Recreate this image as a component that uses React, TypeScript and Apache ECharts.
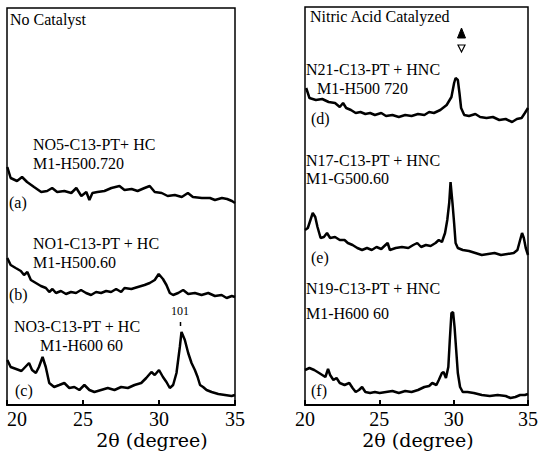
import { useEffect, useRef } from "react";
import * as echarts from "echarts";

// 2θ (degree) tick values
const xTicks = [20, 25, 30, 35];

// Left panel (No Catalyst) – [2θ, intensity offset, a.u.]
const curveA: [number, number][] = [
  [20.02, 238], [20.24, 227], [20.66, 224], [20.99, 228], [21.32, 223], [21.78, 218],
  [22.25, 213], [22.64, 214], [22.97, 217], [23.3, 213], [23.77, 214], [24.23, 212],
  [24.56, 217], [24.89, 209], [25.22, 213], [25.42, 205], [25.62, 212], [25.95, 213],
  [26.41, 214], [26.87, 217], [27.4, 219], [27.73, 215], [28.2, 216], [28.59, 214],
  [29.05, 217], [29.39, 219], [29.72, 213], [30.18, 212], [30.57, 209], [31.04, 210],
  [31.5, 208], [31.9, 212], [32.23, 208], [32.82, 207], [33.35, 207], [33.68, 205],
  [34.14, 207], [34.48, 206], [34.8, 204], [35.0, 202],
];
const curveB: [number, number][] = [
  [20.02, 147], [20.24, 140], [20.57, 137], [20.91, 134], [21.12, 130], [21.34, 133],
  [21.57, 125], [21.9, 122], [22.23, 119], [22.56, 117], [22.78, 113], [22.99, 116],
  [23.22, 112], [23.55, 114], [23.88, 111], [24.21, 113], [24.54, 112], [24.87, 115],
  [25.2, 112], [25.53, 110], [25.86, 113], [26.19, 112], [26.52, 114], [26.85, 113],
  [27.18, 116], [27.51, 113], [27.73, 117], [28.18, 116], [28.61, 118], [29.05, 120],
  [29.39, 122], [29.72, 125], [29.98, 131], [30.26, 126], [30.49, 120], [30.71, 112],
  [30.93, 110], [31.26, 112], [31.59, 115], [31.92, 111], [32.36, 112], [32.8, 110],
  [33.24, 112], [33.68, 109], [34.12, 110], [34.45, 107], [34.79, 109], [35.0, 108],
];
const curveC: [number, number][] = [
  [20.02, 45], [20.24, 38], [20.6, 36], [20.95, 34], [21.2, 38], [21.45, 42], [21.65, 35],
  [21.9, 32], [22.1, 38], [22.34, 48], [22.55, 38], [22.78, 22], [23.1, 18], [23.44, 20],
  [23.77, 22], [24.1, 17], [24.43, 18], [24.76, 15], [25.09, 20], [25.42, 15], [25.75, 13],
  [26.19, 15], [26.63, 17], [27.07, 15], [27.51, 18], [27.95, 17], [28.39, 20], [28.83, 22],
  [29.16, 27], [29.5, 33], [29.72, 30], [30.0, 35], [30.26, 28], [30.49, 23], [30.71, 17],
  [30.93, 20], [31.15, 32], [31.37, 58], [31.48, 73], [31.7, 65], [31.92, 52], [32.14, 42],
  [32.36, 35], [32.54, 28], [32.7, 20], [32.9, 18], [33.13, 15], [33.46, 13], [33.9, 11],
  [34.34, 10], [34.78, 9], [35.0, 10],
];

// Right panel (Nitric Acid Catalyzed)
const curveD: [number, number][] = [
  [20.08, 317], [20.3, 307], [20.73, 305], [21.16, 306], [21.59, 303], [22.02, 302],
  [22.34, 298], [22.56, 302], [22.77, 297], [23.09, 295], [23.41, 292], [23.73, 293],
  [24.06, 291], [24.38, 292], [24.7, 290], [25.13, 292], [25.45, 289], [25.88, 290],
  [26.31, 288], [26.74, 290], [27.17, 289], [27.6, 291], [28.03, 290], [28.35, 293],
  [28.67, 292], [29.1, 295], [29.53, 300], [29.85, 308], [30.03, 322], [30.13, 327],
  [30.28, 325], [30.39, 312], [30.5, 297], [30.71, 290], [31.03, 289], [31.46, 291],
  [31.78, 288], [32.21, 287], [32.64, 288], [33.07, 285], [33.5, 286], [33.93, 283],
  [34.25, 286], [34.57, 287], [34.79, 292], [35.0, 297],
];
const curveE: [number, number][] = [
  [20.0, 175], [20.19, 177], [20.41, 187], [20.52, 192], [20.69, 188], [20.84, 178],
  [21.05, 167], [21.27, 168], [21.48, 172], [21.69, 167], [22.02, 168], [22.34, 165],
  [22.66, 165], [22.88, 162], [23.2, 160], [23.52, 157], [23.84, 155], [24.17, 157],
  [24.49, 155], [24.81, 158], [25.13, 156], [25.41, 160], [25.56, 162], [25.71, 155],
  [26.1, 157], [26.52, 158], [26.95, 157], [27.28, 160], [27.55, 162], [27.81, 158],
  [28.13, 160], [28.45, 159], [28.78, 162], [29.0, 165], [29.21, 163], [29.42, 172],
  [29.57, 185], [29.7, 202], [29.79, 223], [29.92, 202], [30.03, 182], [30.13, 162],
  [30.28, 157], [30.61, 155], [31.03, 154], [31.46, 152], [31.89, 150], [32.32, 151],
  [32.75, 152], [33.18, 150], [33.61, 151], [34.04, 152], [34.29, 155], [34.47, 165],
  [34.6, 172], [34.72, 167], [34.85, 157], [35.0, 150],
];
const curveF: [number, number][] = [
  [20.0, 35], [20.3, 37], [20.62, 35], [20.95, 32], [21.16, 30], [21.37, 28], [21.55, 36],
  [21.69, 30], [21.91, 25], [22.12, 27], [22.34, 22], [22.66, 20], [22.98, 22], [23.2, 17],
  [23.41, 13], [23.63, 15], [23.84, 18], [24.06, 13], [24.38, 12], [24.7, 13], [25.02, 12],
  [25.45, 13], [25.88, 14], [26.31, 12], [26.74, 14], [27.17, 13], [27.6, 15], [28.03, 18],
  [28.35, 19], [28.56, 22], [28.84, 20], [29.0, 25], [29.21, 32], [29.32, 33], [29.48, 27],
  [29.64, 38], [29.74, 65], [29.85, 92], [29.96, 93], [30.06, 78], [30.17, 55], [30.28, 32],
  [30.43, 18], [30.61, 13], [30.93, 13], [31.35, 12], [31.89, 10], [32.43, 9], [32.96, 10],
  [33.5, 9], [33.82, 7], [34.15, 8], [34.47, 10], [34.79, 10], [35.0, 11],
];

const SERIF = '"Liberation Serif", "DejaVu Serif", serif';

function txt(text: string, x: number, y: number, size = 16, align = "left", family = SERIF) {
  return {
    type: "text",
    x,
    y,
    silent: true,
    style: {
      text,
      fill: "#000",
      fontSize: size,
      fontFamily: family,
      align,
      verticalAlign: "middle",
      textAlign: align,
      textVerticalAlign: "middle",
    },
  };
}

export default function App() {
  const ref = useRef<HTMLDivElement>(null);
  useEffect(() => {
    if (!ref.current) return;
    const chart = echarts.init(ref.current, undefined, { renderer: "svg" });
    const xAxisBase = (gridIndex: number) => ({
      type: "value",
      gridIndex,
      min: xTicks[0],
      max: xTicks[xTicks.length - 1],
      interval: 5,
      axisLine: { show: true, onZero: false, lineStyle: { color: "#000", width: 2 } },
      axisTick: { show: true, inside: true, length: 5, lineStyle: { color: "#000", width: 2 } },
      axisLabel: {
        color: "#000",
        fontSize: 20,
        fontFamily: SERIF,
        margin: 4,
        alignMinLabel: gridIndex === 0 ? "left" : "center",
      },
      splitLine: { show: false },
    });
    const yAxisBase = (gridIndex: number, max: number) => ({
      type: "value",
      gridIndex,
      min: 0,
      max,
      show: false,
      splitLine: { show: false },
    });
    const line = (data: [number, number][], idx: number) => ({
      type: "line",
      xAxisIndex: idx,
      yAxisIndex: idx,
      data,
      showSymbol: false,
      symbol: "none",
      lineStyle: { color: "#000", width: 2.5 },
      silent: true,
    });
    chart.setOption({
      animation: false,
      backgroundColor: "#fff",
      grid: [
        { left: 7, right: 306, top: 8, bottom: 54, show: true, borderColor: "#000", borderWidth: 1.5, backgroundColor: "transparent" },
        { left: 305, right: 2, top: 7, bottom: 54, show: true, borderColor: "#000", borderWidth: 1.5, backgroundColor: "transparent" },
      ],
      xAxis: [xAxisBase(0), xAxisBase(1)],
      yAxis: [yAxisBase(0, 397), yAxisBase(1, 398)],
      series: [
        line(curveA, 0),
        line(curveB, 0),
        line(curveC, 0),
        line(curveD, 1),
        line(curveE, 1),
        line(curveF, 1),
      ],
      graphic: [
        txt("No Catalyst", 10, 19, 16),
        txt("NO5-C13-PT+ HC", 33, 144),
        txt("M1-H500.720", 33, 163),
        txt("(a)", 9, 202),
        txt("NO1-C13-PT + HC", 33, 243),
        txt("M1-H500.60", 33, 262),
        txt("(b)", 9, 294),
        txt("NO3-C13-PT + HC", 14, 326),
        txt("M1-H600 60", 40, 345),
        txt("101", 180, 311, 12, "center"),
        txt("(c)", 15, 390),
        txt("2θ (degree)", 152, 440, 19, "center", '"DejaVu Serif", serif'),
        txt("Nitric Acid Catalyzed", 310, 16, 16),
        txt("N21-C13-PT + HNC", 306, 69),
        txt("M1-H500 720", 317, 88),
        txt("(d)", 311, 118),
        txt("N17-C13-PT + HNC", 306, 160),
        txt("M1-G500.60", 306, 178),
        txt("(e)", 311, 257),
        txt("N19-C13-PT + HNC", 306, 288),
        txt("M1-H600 60", 306, 313),
        txt("(f)", 311, 390),
        txt("2θ (degree)", 418, 440, 19, "center", '"DejaVu Serif", serif'),
        {
          type: "polygon",
          silent: true,
          shape: { points: [[461.5, 28], [465.5, 38], [457.5, 38]] },
          style: { fill: "#000", stroke: "#000", lineWidth: 1 },
        },
        {
          type: "polygon",
          silent: true,
          shape: { points: [[458, 45], [465, 45], [461.5, 52]] },
          style: { fill: "#fff", stroke: "#000", lineWidth: 1.2 },
        },
        {
          type: "line",
          silent: true,
          shape: { x1: 180.5, y1: 322, x2: 180.5, y2: 326 },
          style: { stroke: "#000", lineWidth: 1.5 },
        },
      ],
    });
    return () => chart.dispose();
  }, []);
  return <div ref={ref} style={{ width: 541, height: 459, position: "absolute", left: 0, top: 0 }} />;
}
